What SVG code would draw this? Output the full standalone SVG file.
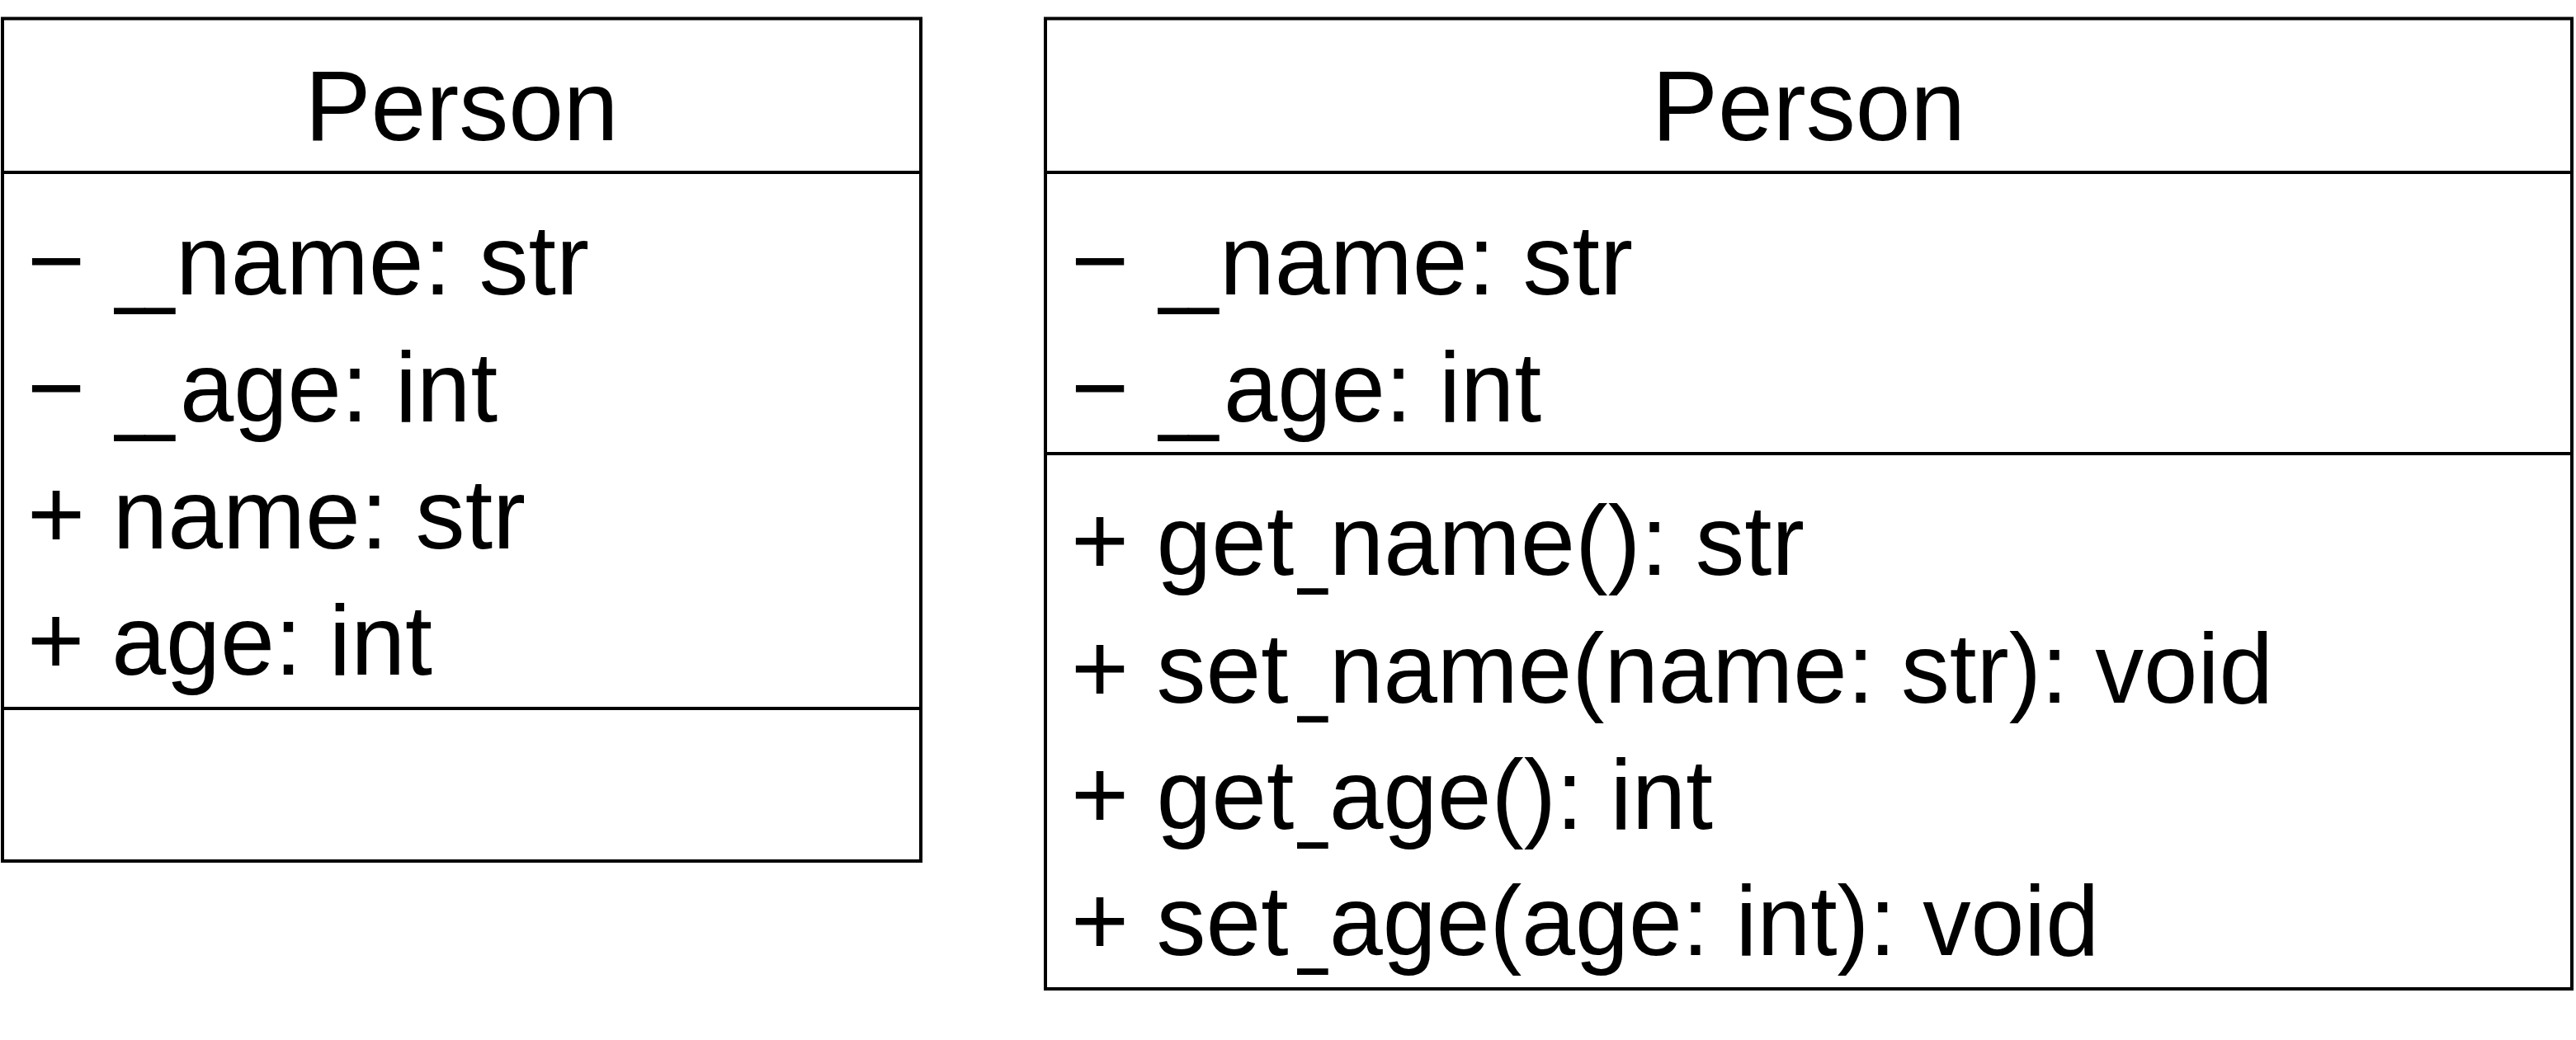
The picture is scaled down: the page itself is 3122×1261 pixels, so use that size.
<svg xmlns="http://www.w3.org/2000/svg" width="3122" height="1261" viewBox="0 0 3122 1261">
<style>
.box{fill:#fff;stroke:#000;stroke-width:4}
.div{stroke:#000;stroke-width:4}
.t{font-family:"Liberation Sans",Arial,sans-serif;font-size:120px;fill:#000}
.c{text-anchor:middle}
</style>
<rect width="3122" height="1261" fill="#fff"/>
<g id="person-left">
<rect class="box" x="3" y="22.5" width="1113" height="1021.5"/>
<line class="div" x1="3" y1="209" x2="1116" y2="209"/>
<line class="div" x1="3" y1="859" x2="1116" y2="859"/>
<text class="t c" x="559.5" y="170">Person</text>
<g id="left-attr-1">
<text class="t" x="33" y="357">−</text>
<text class="t" x="139" y="357" textLength="73" lengthAdjust="spacingAndGlyphs">__</text>
<text class="t" x="213" y="357" textLength="501" lengthAdjust="spacingAndGlyphs">name: str</text>
</g>
<g id="left-attr-2">
<text class="t" x="33" y="511">−</text>
<text class="t" x="139" y="511" textLength="73" lengthAdjust="spacingAndGlyphs">__</text>
<text class="t" x="218" y="511" textLength="385" lengthAdjust="spacingAndGlyphs">age: int</text>
</g>
<text class="t" x="33" y="665" textLength="604" lengthAdjust="spacingAndGlyphs">+ name: str</text>
<text class="t" x="33" y="818" textLength="491" lengthAdjust="spacingAndGlyphs">+ age: int</text>
</g>
<g id="person-right">
<rect class="box" x="1267" y="22.5" width="1850" height="1176.5"/>
<line class="div" x1="1267" y1="209" x2="3117" y2="209"/>
<line class="div" x1="1267" y1="550" x2="3117" y2="550"/>
<text class="t c" x="2192" y="170">Person</text>
<g id="right-attr-1">
<text class="t" x="1298" y="357">−</text>
<text class="t" x="1404" y="357" textLength="73" lengthAdjust="spacingAndGlyphs">__</text>
<text class="t" x="1478" y="357" textLength="501" lengthAdjust="spacingAndGlyphs">name: str</text>
</g>
<g id="right-attr-2">
<text class="t" x="1298" y="511">−</text>
<text class="t" x="1404" y="511" textLength="73" lengthAdjust="spacingAndGlyphs">__</text>
<text class="t" x="1483" y="511" textLength="385" lengthAdjust="spacingAndGlyphs">age: int</text>
</g>
<g id="right-op-1">
<text class="t" x="1298" y="697">+ get</text>
<text class="t" x="1573" y="697" textLength="36" lengthAdjust="spacingAndGlyphs">_</text>
<text class="t" x="1611" y="697" textLength="576" lengthAdjust="spacingAndGlyphs">name(): str</text>
</g>
<g id="right-op-2">
<text class="t" x="1298" y="852">+ set</text>
<text class="t" x="1573" y="852" textLength="36" lengthAdjust="spacingAndGlyphs">_</text>
<text class="t" x="1611" y="852" textLength="1144" lengthAdjust="spacingAndGlyphs">name(name: str): void</text>
</g>
<g id="right-op-3">
<text class="t" x="1298" y="1005">+ get</text>
<text class="t" x="1573" y="1005" textLength="36" lengthAdjust="spacingAndGlyphs">_</text>
<text class="t" x="1611" y="1005" textLength="465" lengthAdjust="spacingAndGlyphs">age(): int</text>
</g>
<g id="right-op-4">
<text class="t" x="1298" y="1158">+ set</text>
<text class="t" x="1573" y="1158" textLength="36" lengthAdjust="spacingAndGlyphs">_</text>
<text class="t" x="1611" y="1158" textLength="933" lengthAdjust="spacingAndGlyphs">age(age: int): void</text>
</g>
</g>
<g id="connectors"></g>
</svg>
